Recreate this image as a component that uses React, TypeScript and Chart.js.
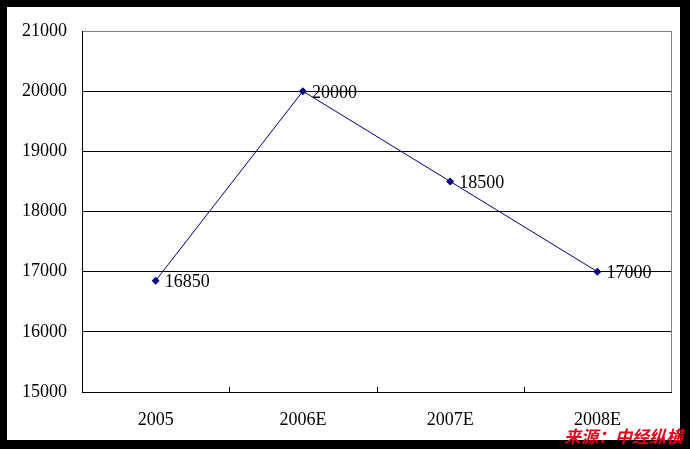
import React, { useEffect, useRef } from "react";
import { Chart, registerables } from "chart.js";

Chart.register(...registerables);

const categories = ["2005", "2006E", "2007E", "2008E"];
const values = [16850, 20000, 18500, 17000];
const yMin = 15000;
const yMax = 21000;
const yStep = 1000;
const sourceText = "来源：中经纵横";

const FONT = "'Liberation Serif', 'Times New Roman', serif";

const framePlugin = {
  id: "frame",
  beforeDraw(chart: any) {
    const ctx = chart.ctx;
    ctx.save();
    ctx.fillStyle = "#000";
    ctx.fillRect(0, 0, chart.width, chart.height);
    ctx.fillStyle = "#fff";
    ctx.fillRect(7, 7, 673, 433);
    ctx.restore();
  },
  afterDatasetsDraw(chart: any) {
    const ctx = chart.ctx;
    const area = chart.chartArea;
    const xs = chart.scales.x;
    ctx.save();
    ctx.strokeStyle = "#808080";
    ctx.lineWidth = 1;
    ctx.beginPath();
    ctx.moveTo(Math.round(area.right) + 0.5, area.top);
    ctx.lineTo(Math.round(area.right) + 0.5, area.bottom);
    ctx.stroke();
    ctx.strokeStyle = "#000";
    for (let i = 1; i < categories.length; i++) {
      const x = Math.round((xs.getPixelForValue(i - 1) + xs.getPixelForValue(i)) / 2) + 0.5;
      ctx.beginPath();
      ctx.moveTo(x, area.bottom);
      ctx.lineTo(x, area.bottom - 5);
      ctx.stroke();
    }
    const meta = chart.getDatasetMeta(0);
    ctx.fillStyle = "#000";
    ctx.font = "18px " + FONT;
    ctx.textAlign = "left";
    ctx.textBaseline = "middle";
    meta.data.forEach((pt: any, i: number) => {
      ctx.fillText(String(values[i]), pt.x + 9, pt.y + 2);
    });
    ctx.restore();
  },
  afterDraw(chart: any) {
    const ctx = chart.ctx;
    ctx.save();
    ctx.fillStyle = "#e0001a";
    ctx.font = "italic bold 17px 'Noto Sans CJK SC', sans-serif";
    ctx.textAlign = "right";
    ctx.textBaseline = "middle";
    ctx.fillText(sourceText, 683, 437);
    ctx.restore();
  },
};

export default function App() {
  const ref = useRef<HTMLCanvasElement>(null);
  useEffect(() => {
    if (!ref.current) return;
    const chart = new Chart(ref.current, {
      type: "line",
      data: {
        labels: categories,
        datasets: [
          {
            data: values,
            borderColor: "#000080",
            backgroundColor: "#000080",
            borderWidth: 1,
            pointStyle: "rectRot",
            pointRadius: 4,
            pointBorderWidth: 0,
            tension: 0,
            fill: false,
          },
        ],
      },
      options: {
        animation: false,
        responsive: false,
        devicePixelRatio: 1,
        layout: { padding: { left: 0, top: 31, right: 19, bottom: 0 } },
        plugins: { legend: { display: false }, tooltip: { enabled: false } },
        scales: {
          x: {
            offset: true,
            grid: { drawOnChartArea: false, drawTicks: false },
            border: { display: true, color: "#000", width: 1 },
            ticks: { color: "#000", font: { family: FONT, size: 18 }, padding: 17, maxRotation: 0 },
            afterFit(scale: any) {
              scale.height = 57;
            },
          },
          y: {
            min: yMin,
            max: yMax,
            grid: {
              drawTicks: false,
              color: (c: any) => (c.tick && c.tick.value === yMax ? "#808080" : "#000"),
              lineWidth: 1,
            },
            border: { display: true, color: "#000", width: 1 },
            ticks: {
              stepSize: yStep,
              color: "#000",
              font: { family: FONT, size: 18 },
              padding: 15,
              callback: (v: any) => String(v),
            },
            afterFit(scale: any) {
              scale.width = 82;
            },
          },
        },
      },
      plugins: [framePlugin],
    });
    return () => chart.destroy();
  }, []);
  return (
    <div style={{ position: "absolute", left: 0, top: 0, width: 690, height: 449 }}>
      <canvas ref={ref} width={690} height={449} style={{ display: "block", width: 690, height: 449 }} />
    </div>
  );
}
